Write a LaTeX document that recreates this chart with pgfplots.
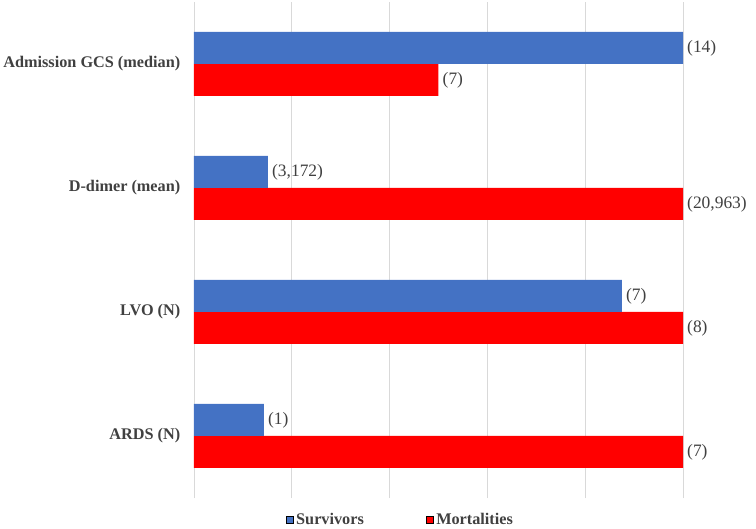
\documentclass[border=0pt]{standalone}
\usepackage{pgfplots}
\pgfplotsset{compat=1.18}
\usetikzlibrary{calc}
\usepackage{fontspec}
\setmainfont{Liberation Serif}
\definecolor{survblue}{HTML}{4472C4}
\definecolor{mortred}{HTML}{FF0000}
\definecolor{lbl}{HTML}{404040}
\begin{document}
\begin{tikzpicture}
\begin{axis}[
  name=ax,
  scale only axis,
  width=489bp, height=496bp,
  xbar=0pt, bar width=32bp,
  xmin=0, xmax=1, ymin=-0.5, ymax=3.5,
  ytick={0,1,2,3},
  yticklabels={ARDS (N), LVO (N), D-dimer (mean), Admission GCS (median)},
  yticklabel style={font=\fontsize{16.3}{18}\selectfont\bfseries, text=lbl, xshift=-6bp},
  xtick={0,0.2,0.4,0.6,0.8,1}, xticklabels={},
  xmajorgrids, grid style={black!15, line width=0.8pt},
  axis line style={draw=none}, tick style={draw=none},
  nodes near coords, point meta=explicit symbolic,
  nodes near coords style={anchor=west, inner sep=0bp, xshift=4bp, font=\fontsize{17.5}{18}\selectfont, text=lbl},
  reverse legend,
  legend columns=2,
  legend style={at={(0.422,-0.044)}, anchor=center, draw=none, fill=none,
    font=\fontsize{16.3}{18}\selectfont\bfseries, text=lbl,
    /tikz/every odd column/.append style={column sep=1bp},
    /tikz/every even column/.append style={column sep=60bp}},
  legend image code/.code={\draw[#1] (0bp,-3.5bp) rectangle (7bp,3.5bp);},
]
% Mortalities (plotted first, lower bar)
\addplot[fill=mortred, draw=none] coordinates {
  (1,0) [(7)] (1,1) [(8)] (1,2) [{(20,963)}] (0.5,3) [(7)]};
% Survivors
\addplot[fill=survblue, draw=none] coordinates {
  (0.1429,0) [(1)] (0.875,1) [(7)] (0.1513,2) [{(3,172)}] (1,3) [(14)]};
\legend{Mortalities, Survivors}
\end{axis}
\pgfresetboundingbox
\path[use as bounding box] ($(ax.south west)+(-194bp,-31bp)$) rectangle ($(ax.north east)+(73bp,2bp)$);
\end{tikzpicture}
\end{document}
